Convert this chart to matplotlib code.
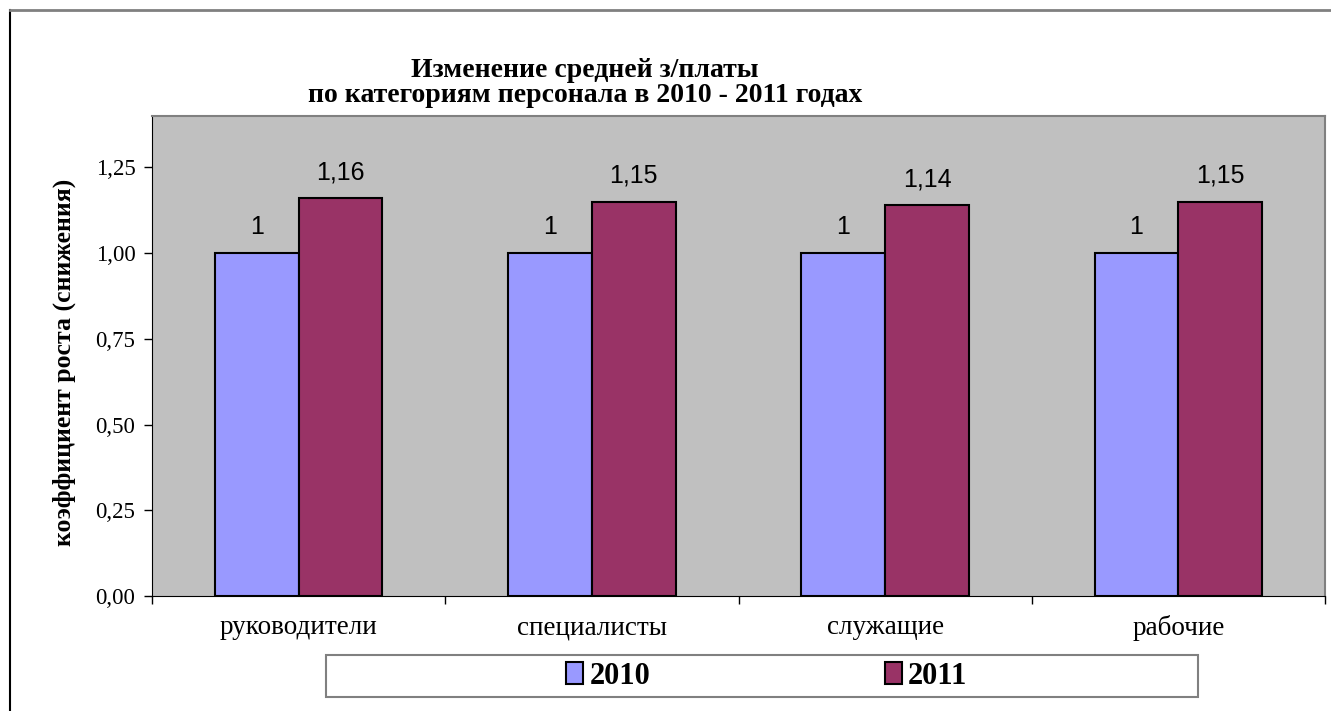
import matplotlib
matplotlib.use("Agg")
import matplotlib.pyplot as plt
import numpy as np
from matplotlib.patches import Rectangle
from matplotlib.lines import Line2D

categories = ["руководители", "специалисты", "служащие", "рабочие"]
series_names = ["2010", "2011"]
values_2010 = [1, 1, 1, 1]
values_2011 = [1.16, 1.15, 1.14, 1.15]
y_ticks = [0, 0.25, 0.5, 0.75, 1.0, 1.25]
title = "Изменение средней з/платы\nпо категориям персонала в 2010 - 2011 годах"
ylabel = "коэффициент роста (снижения)"
colors = ["#9999FF", "#993366"]

W, H = 1331, 711
fig = plt.figure(figsize=(W / 100, H / 100), dpi=100)
serif = "Liberation Serif"
sans = "Liberation Sans"

ax = fig.add_axes([152 / W, 1 - 596 / H, (1325 - 152) / W, (596 - 116) / H])
ax.set_facecolor("#C0C0C0")

x = np.arange(len(categories))
bw = 1 / 3.5
bars = []
for i, (vals, c) in enumerate(zip([values_2010, values_2011], colors)):
    b = ax.bar(x + (i - 0.5) * bw, vals, bw, color=c, edgecolor="black",
               linewidth=1.5, label=series_names[i], zorder=3)
    bars.append(b)
    for rect, v in zip(b, vals):
        ax.annotate(f"{v:g}".replace(".", ","),
                    (rect.get_x() + rect.get_width() / 2, v),
                    xytext=(0, 10), textcoords="offset points",
                    ha="center", va="bottom", fontsize=18, family=sans)

ax.set_xlim(-0.5, len(categories) - 0.5)
ax.set_ylim(0, 1.4)
ax.set_yticks(y_ticks)
ax.set_yticklabels([f"{t:.2f}".replace(".", ",") for t in y_ticks],
                   family=serif, fontsize=16.5)
ax.set_xticks(x)
ax.set_xticklabels(categories, family=serif, fontsize=19.5)
ax.set_xticks(np.arange(len(categories) + 1) - 0.5, minor=True)
ax.tick_params(axis="x", which="major", length=0, pad=14)
ax.tick_params(axis="x", which="minor", length=6, direction="out", width=1)
ax.tick_params(axis="y", length=6, direction="out", width=1, pad=6)

for s in ["top", "right"]:
    ax.spines[s].set_color("#808080")
    ax.spines[s].set_linewidth(1.5)
ax.spines["left"].set_color("black")
ax.spines["bottom"].set_color("black")

fig.text(64 / W, 1 - 362 / H, ylabel, rotation=90, ha="center", va="center",
         family=serif, fontweight="bold", fontsize=18.5)
fig.text(585 / W, 1 - 83 / H, title, ha="center", va="center",
         family=serif, fontweight="bold", fontsize=20, linespacing=1.0)

# legend box
fig.add_artist(Rectangle((326 / W, 1 - 697 / H), (1198 - 326) / W, (697 - 655) / H,
                         transform=fig.transFigure, facecolor="white",
                         edgecolor="#808080", linewidth=1.5))
leg = fig.legend(handles=bars, labels=series_names, ncol=2, frameon=False,
                 loc="center", bbox_to_anchor=(767 / W, 1 - 676 / H),
                 prop={"family": serif, "weight": "bold", "size": 22},
                 handlelength=0.55, handleheight=0.75, handletextpad=0.2,
                 columnspacing=7.7)

# outer frame
fig.add_artist(Line2D([10 / W, 10 / W], [0, 1 - 10 / H], color="black", lw=1.5,
                      transform=fig.transFigure))
fig.add_artist(Line2D([10 / W, 1], [1 - 10 / H, 1 - 10 / H], color="#808080", lw=2,
                      transform=fig.transFigure))

fig.savefig("out.png", dpi=100)
